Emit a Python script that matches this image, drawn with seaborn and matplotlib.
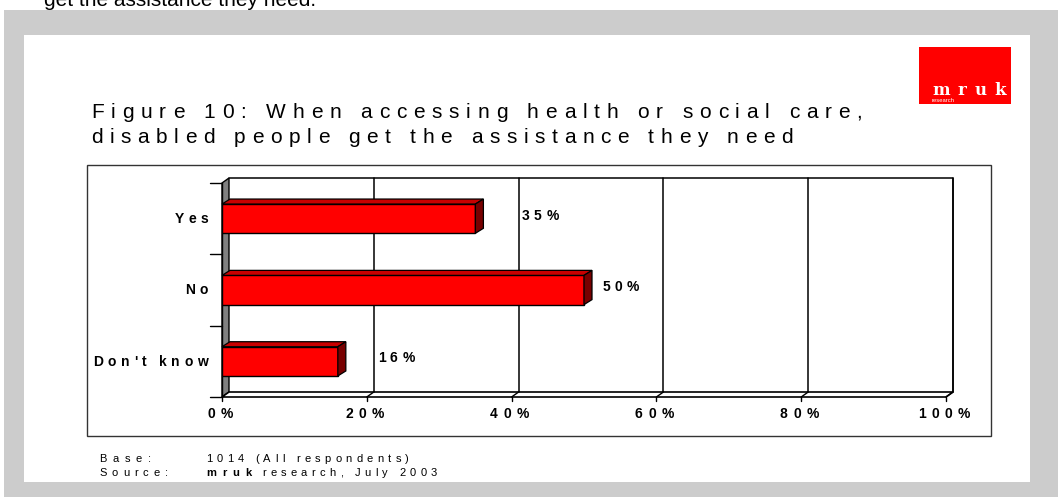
import numpy as np
import pandas as pd
import matplotlib
matplotlib.use('Agg')
import matplotlib.pyplot as plt
import matplotlib.transforms as mtransforms
from matplotlib.patches import Rectangle, Polygon
from matplotlib.font_manager import FontProperties
import seaborn as sns

# data
categories = ['Yes', 'No', "Don't know"]
values = [35, 50, 16]
value_labels = ['35%', '50%', '16%']
label_offsets = [6.4, 2.5, 5.5]   # where the % labels sit past the bar end
tick_values = [0, 20, 40, 60, 80, 100]
tick_labels = ['0%', '20%', '40%', '60%', '80%', '100%']

title_1 = 'Figure 10: When accessing health or social care,'
title_2 = 'disabled people get the assistance they need'
cut_text = 'get the assistance they need.'

sns.set_style('white')
plt.rcParams['font.family'] = ['Liberation Sans', 'DejaVu Sans']

W, H = 1058, 497
fig = plt.figure(figsize=(W / 100, H / 100), dpi=100)
renderer = fig.canvas.get_renderer()
IDT = mtransforms.IdentityTransform()


def P(x, y):
    # pixel coords measured from top-left -> display coords
    return (x, H - y)


def spaced(x, y, s, size, weight='normal', spacing=0.0, span=None, ha='left',
           color='black', family='Liberation Sans', zorder=6):
    """draw text with extra letter spacing, one glyph at a time"""
    fp = FontProperties(family=family, size=size, weight=weight)
    xw = renderer.get_text_width_height_descent('x', fp, ismath=False)[0]

    def adv(t):
        return renderer.get_text_width_height_descent(t + 'x', fp, ismath=False)[0] - xw

    natural = adv(s)
    if span is not None and len(s) > 1:
        spacing = (span - natural) / (len(s) - 1)
    total = natural + spacing * (len(s) - 1)
    off = {'left': 0, 'right': -total, 'center': -total / 2}[ha]
    X, Y = P(x, y)
    for i, ch in enumerate(s):
        if ch == ' ':
            continue
        fig.text(X + off + adv(s[:i]) + i * spacing, Y, ch, transform=IDT,
                 fontproperties=fp, color=color, va='baseline', ha='left',
                 zorder=zorder)


def rect_px(x0, y0, x1, y1, **kw):
    r = Rectangle(P(x0, y1), x1 - x0, y1 - y0, transform=IDT, **kw)
    fig.add_artist(r)
    return r


# page background (the heading of the page above is cut by the grey frame)
fig.text(44, H - 6, cut_text, transform=IDT, fontsize=15, color='black',
         va='baseline', zorder=1)
rect_px(4, 10, W + 2, H + 2, facecolor='#cccccc', edgecolor='none', zorder=2)
rect_px(24, 35, 1030, 482, facecolor='white', edgecolor='none', zorder=3)
rect_px(87, 165, 991, 436, facecolor='none', edgecolor='#333333', lw=1.0, zorder=4)

# logo
rect_px(919, 47, 1011, 104, facecolor='#ff0000', edgecolor='none', zorder=4)
spaced(932, 95, 'mruk', 12, weight='bold', family='DejaVu Serif', span=74, color='white')
fig.text(932, H - 102, 'research', transform=IDT, fontsize=4.2, color='white',
         va='baseline', zorder=6)

# title
spaced(91, 118, title_1, 15, span=771)
spaced(91, 143, title_2, 15, span=702)

# plot area (front plane of the 3D box)
ax = fig.add_axes([222 / W, (H - 397) / H, 724 / W, 214 / H])
ax.set_zorder(5)
df = pd.DataFrame({'response': categories, 'pct': values})
sns.barplot(data=df, x='pct', y='response', orient='h', color='#ff0000',
            saturation=1, edgecolor='black', linewidth=1.0, width=0.41, ax=ax,
            zorder=3)
ax.set_xlim(0, 100)
ax.set_ylim(2.5, -0.5)
ax.axis('off')

dx, dy = 7, 5      # depth of the walls in px
bdx, bdy = 8, 5    # depth of the bars in px


def D(x, y):
    return ax.transData.transform((x, y))


def poly(pts, **kw):
    p = Polygon(pts, closed=True, transform=IDT, clip_on=False, **kw)
    ax.add_patch(p)


def line(pts, **kw):
    pts = np.array(pts)
    ax.add_line(plt.Line2D(pts[:, 0], pts[:, 1], transform=IDT, clip_on=False, **kw))


fb = D(0, 2.5)     # front bottom-left
ft = D(0, -0.5)    # front top-left
fr = D(100, 2.5)   # front bottom-right
tr = D(100, -0.5)
off = np.array([dx, dy])

# left wall and floor
poly([ft, ft + off, fb + off, fb], facecolor='#808080', edgecolor='black', lw=1.0, zorder=1)
poly([fb, fr, fr + off, fb + off], facecolor='white', edgecolor='black', lw=1.2, zorder=1)

# gridlines on the back wall, carried across the floor
for t in tick_values[1:]:
    b = D(t, 2.5)
    tp = D(t, -0.5)
    line([b + off, tp + off], color='black', lw=1.1, zorder=1)
    line([b, b + off], color='black', lw=1.0, zorder=1)
for t in tick_values:
    b = D(t, 2.5)
    line([b, b - np.array([0, 4])], color='black', lw=1.0, zorder=1)
line([ft + off, tr + off, fr + off], color='black', lw=1.1, zorder=1)

# front value axis with category ticks
line([ft, fb], color='black', lw=1.0, zorder=2)
for k in [-0.5, 0.5, 1.5, 2.5]:
    p = D(0, k)
    line([p, p - np.array([12, 0])], color='black', lw=1.0, zorder=2)

# 3D faces of the bars
boff = np.array([bdx, bdy])
for bar in ax.patches[:len(values)]:
    x0, y0 = bar.get_x(), bar.get_y()
    x1, y1 = x0 + bar.get_width(), y0 + bar.get_height()
    a, b_, c = D(x0, y0), D(x1, y0), D(x1, y1)
    poly([a, b_, b_ + boff, a + boff], facecolor='#c80000', edgecolor='black', lw=0.9, zorder=3.5)
    poly([b_, c, c + boff, b_ + boff], facecolor='#780000', edgecolor='black', lw=0.9, zorder=3.5)

# category labels
for i, cat in enumerate(categories):
    X, Y = D(0, i)
    spaced(208, H - Y + 4.5, cat, 10, weight='bold', spacing=4.5, ha='right')

# value labels
for i, (v, lab) in enumerate(zip(values, value_labels)):
    X, Y = D(v + label_offsets[i], i)
    spaced(X, H - Y + 1, lab, 10, weight='bold', spacing=4.5)

# x tick labels
for t, lab in zip(tick_values, tick_labels):
    X, Y = D(t, 2.5)
    spaced(X - 2, 418, lab, 10, weight='bold', spacing=5.5, ha='center')

# footer
spaced(99, 462, 'Base:', 8, span=52)
spaced(206, 462, '1014 (All respondents)', 8, span=203)
spaced(99, 476, 'Source:', 8, span=69)
spaced(206, 476, 'mruk', 8, weight='bold', span=46)
spaced(262, 476, 'research, July 2003', 8, span=175)

fig.savefig('out.png', dpi=100)
